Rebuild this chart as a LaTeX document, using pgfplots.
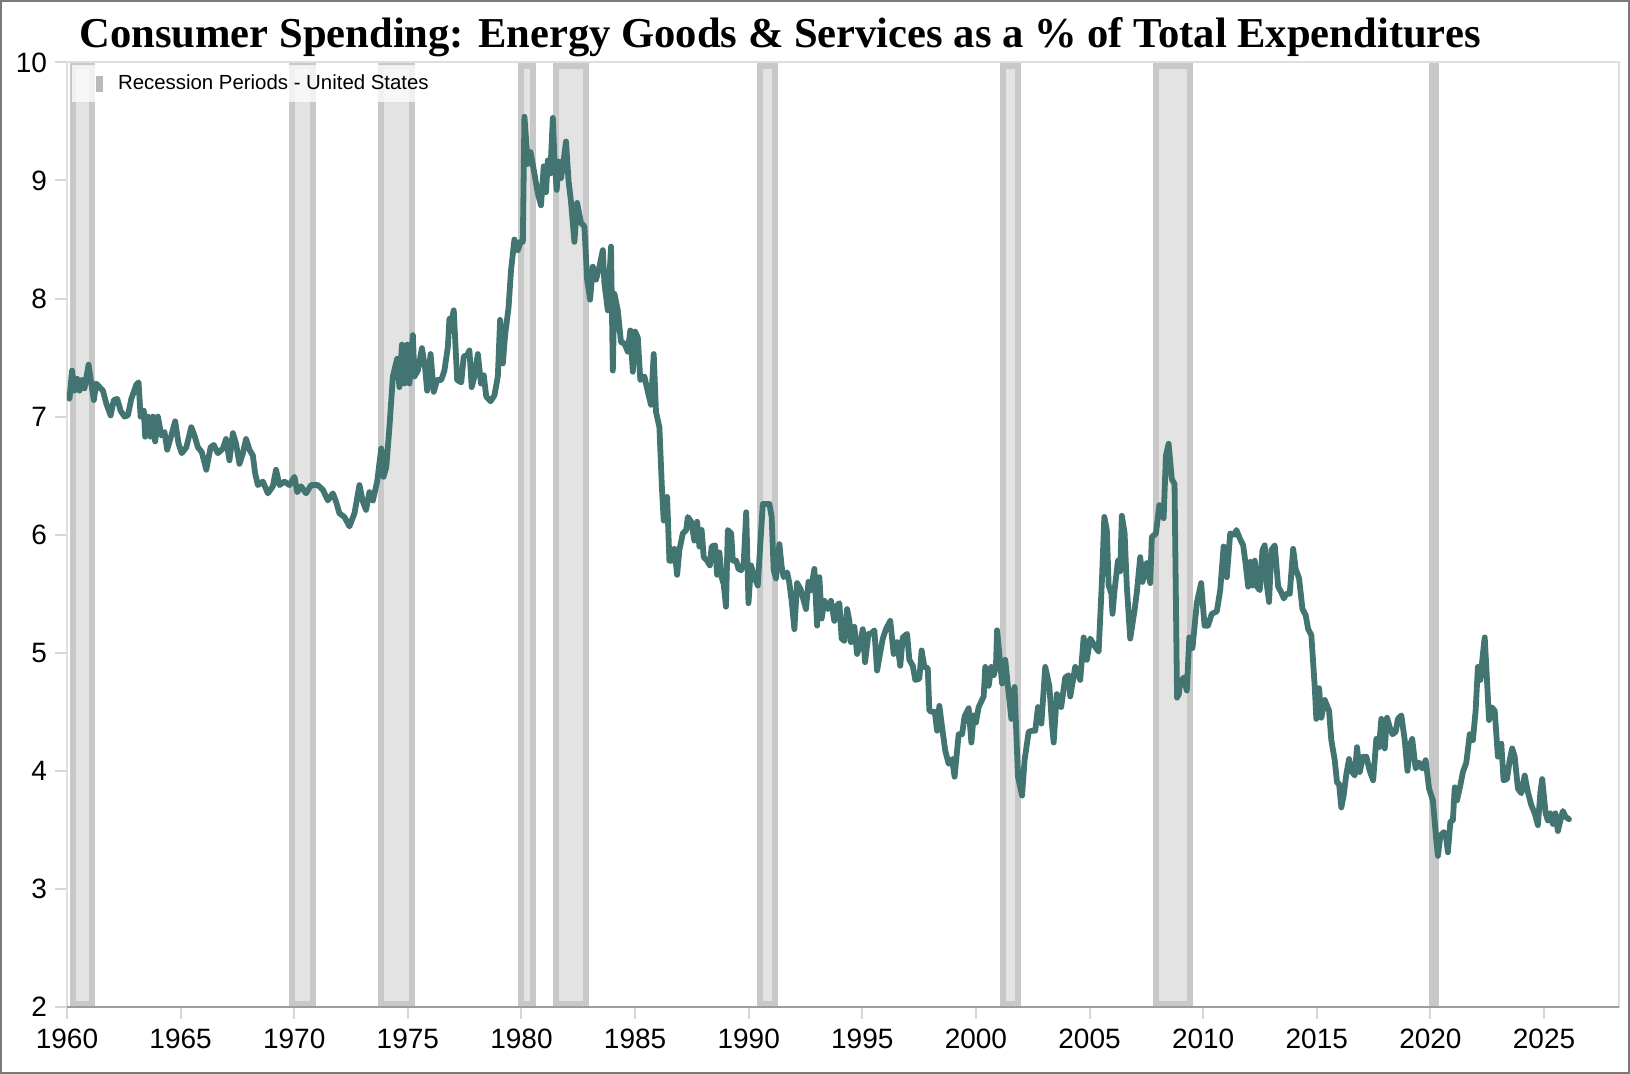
\documentclass[border=0pt]{standalone}
\usepackage{fontspec}
\setmainfont{Liberation Sans}
\newfontfamily\titlefont{Liberation Serif}
\usepackage{pgfplots}
\pgfplotsset{compat=1.18}
\usepackage{pgfplotstable}
\definecolor{lineteal}{HTML}{427471}
\definecolor{bandfill}{HTML}{E3E3E3}
\definecolor{bandborder}{HTML}{C8C8C8}
\definecolor{legendmark}{HTML}{A2A2A2}
\definecolor{axisdark}{HTML}{9C9C9C}
\definecolor{framelight}{HTML}{DEDEDE}
\definecolor{ticklight}{HTML}{D6D6D6}
\definecolor{outerframe}{HTML}{7A7A7A}

\pgfplotstableread{
x y
1960.00 7.18
1960.11 7.15
1960.22 7.39
1960.33 7.22
1960.45 7.32
1960.55 7.22
1960.66 7.31
1960.77 7.24
1960.95 7.44
1961.07 7.28
1961.18 7.14
1961.29 7.28
1961.43 7.25
1961.58 7.22
1961.73 7.11
1961.92 7.01
1962.06 7.14
1962.21 7.15
1962.36 7.05
1962.53 7.00
1962.68 7.01
1962.83 7.15
1963.05 7.27
1963.15 7.29
1963.24 7.00
1963.38 7.05
1963.44 6.83
1963.56 7.00
1963.68 6.83
1963.78 7.00
1963.88 6.79
1964.00 7.00
1964.15 6.84
1964.29 6.87
1964.41 6.72
1964.59 6.84
1964.76 6.96
1964.91 6.77
1965.05 6.69
1965.25 6.74
1965.47 6.91
1965.61 6.84
1965.76 6.74
1965.93 6.70
1966.13 6.55
1966.32 6.74
1966.46 6.76
1966.64 6.69
1966.86 6.73
1967.00 6.81
1967.15 6.63
1967.30 6.86
1967.44 6.77
1967.59 6.60
1967.74 6.69
1967.88 6.81
1968.03 6.72
1968.18 6.67
1968.28 6.52
1968.40 6.42
1968.62 6.45
1968.84 6.35
1969.06 6.41
1969.20 6.55
1969.35 6.42
1969.57 6.45
1969.79 6.42
1970.01 6.49
1970.13 6.36
1970.30 6.41
1970.52 6.35
1970.74 6.42
1971.04 6.42
1971.26 6.38
1971.48 6.29
1971.70 6.35
1971.84 6.28
1971.99 6.18
1972.21 6.15
1972.43 6.07
1972.65 6.18
1972.87 6.42
1973.02 6.28
1973.16 6.21
1973.31 6.36
1973.46 6.29
1973.65 6.45
1973.83 6.73
1973.93 6.49
1974.05 6.57
1974.19 6.91
1974.34 7.34
1974.53 7.49
1974.63 7.25
1974.74 7.61
1974.85 7.28
1974.97 7.61
1975.07 7.28
1975.22 7.69
1975.29 7.34
1975.44 7.39
1975.62 7.58
1975.76 7.41
1975.85 7.22
1976.00 7.53
1976.14 7.21
1976.29 7.31
1976.47 7.31
1976.61 7.39
1976.76 7.59
1976.83 7.83
1976.93 7.82
1977.02 7.90
1977.17 7.31
1977.35 7.29
1977.46 7.51
1977.61 7.52
1977.71 7.56
1977.81 7.25
1977.93 7.34
1978.08 7.53
1978.22 7.28
1978.34 7.35
1978.45 7.17
1978.64 7.13
1978.81 7.18
1978.96 7.34
1979.06 7.82
1979.18 7.45
1979.28 7.69
1979.43 7.92
1979.54 8.24
1979.69 8.50
1979.84 8.41
1979.96 8.48
1980.06 8.48
1980.13 9.54
1980.28 9.14
1980.40 9.24
1980.54 9.09
1980.72 8.89
1980.86 8.79
1980.98 9.12
1981.08 8.90
1981.16 9.17
1981.27 9.06
1981.38 9.53
1981.45 9.19
1981.55 8.92
1981.64 9.16
1981.74 9.02
1981.85 9.16
1981.96 9.33
1982.07 9.00
1982.18 8.82
1982.33 8.48
1982.45 8.81
1982.62 8.64
1982.77 8.61
1982.89 8.16
1983.02 7.99
1983.14 8.27
1983.28 8.16
1983.43 8.27
1983.58 8.41
1983.65 8.13
1983.80 7.90
1983.94 8.44
1984.02 7.39
1984.09 8.04
1984.24 7.90
1984.38 7.63
1984.53 7.62
1984.68 7.55
1984.79 7.73
1984.90 7.38
1985.00 7.72
1985.12 7.67
1985.23 7.31
1985.41 7.34
1985.56 7.21
1985.70 7.10
1985.82 7.53
1985.92 7.04
1986.07 6.91
1986.18 6.40
1986.26 6.12
1986.41 6.32
1986.51 5.78
1986.63 5.78
1986.73 5.88
1986.85 5.66
1986.95 5.87
1987.10 6.01
1987.25 6.04
1987.32 6.15
1987.47 6.11
1987.61 5.95
1987.73 6.11
1987.83 5.90
1987.93 6.04
1988.02 5.81
1988.17 5.78
1988.29 5.74
1988.37 5.90
1988.52 5.91
1988.61 5.66
1988.71 5.85
1988.81 5.64
1988.90 5.58
1989.00 5.39
1989.08 6.04
1989.23 6.01
1989.30 5.78
1989.45 5.78
1989.55 5.71
1989.67 5.70
1989.78 5.76
1989.89 6.19
1989.99 5.42
1990.10 5.74
1990.25 5.64
1990.40 5.57
1990.52 5.95
1990.62 6.26
1990.77 6.26
1990.91 6.26
1991.01 6.15
1991.10 5.70
1991.20 5.63
1991.35 5.92
1991.45 5.73
1991.54 5.64
1991.69 5.68
1991.79 5.59
1991.89 5.44
1992.01 5.20
1992.13 5.59
1992.28 5.54
1992.38 5.47
1992.52 5.37
1992.63 5.60
1992.74 5.53
1992.89 5.71
1993.01 5.23
1993.11 5.64
1993.21 5.29
1993.33 5.44
1993.48 5.37
1993.62 5.44
1993.77 5.27
1993.84 5.39
1993.99 5.42
1994.09 5.12
1994.21 5.10
1994.33 5.37
1994.43 5.27
1994.50 5.09
1994.65 5.22
1994.77 4.99
1994.91 5.08
1995.02 5.20
1995.12 4.92
1995.27 5.16
1995.38 5.16
1995.53 5.19
1995.65 4.85
1995.75 4.96
1995.90 5.12
1996.04 5.20
1996.23 5.27
1996.38 4.99
1996.53 5.09
1996.67 4.89
1996.78 5.13
1996.97 5.16
1997.07 4.94
1997.22 4.89
1997.33 4.77
1997.51 4.78
1997.61 5.02
1997.73 4.88
1997.88 4.87
1997.95 4.51
1998.07 4.50
1998.19 4.50
1998.29 4.34
1998.39 4.55
1998.51 4.37
1998.65 4.17
1998.80 4.06
1998.95 4.10
1999.06 3.95
1999.24 4.31
1999.39 4.31
1999.50 4.46
1999.68 4.53
1999.80 4.24
1999.90 4.47
2000.00 4.41
2000.12 4.54
2000.34 4.63
2000.41 4.88
2000.56 4.72
2000.68 4.88
2000.78 4.81
2000.88 4.88
2000.93 5.19
2001.03 4.99
2001.15 4.74
2001.29 4.94
2001.41 4.71
2001.56 4.44
2001.70 4.71
2001.85 3.95
2002.03 3.79
2002.14 4.09
2002.32 4.33
2002.47 4.34
2002.61 4.34
2002.73 4.54
2002.88 4.40
2003.05 4.88
2003.23 4.72
2003.34 4.41
2003.42 4.24
2003.56 4.65
2003.75 4.54
2003.93 4.79
2004.08 4.81
2004.15 4.63
2004.37 4.88
2004.59 4.77
2004.74 5.13
2004.88 4.94
2005.03 5.12
2005.25 5.05
2005.40 5.01
2005.54 5.59
2005.65 6.15
2005.76 6.04
2005.84 5.57
2005.96 5.50
2006.01 5.33
2006.10 5.53
2006.25 5.78
2006.35 5.69
2006.42 6.16
2006.54 6.02
2006.64 5.56
2006.79 5.12
2006.98 5.36
2007.08 5.51
2007.23 5.81
2007.33 5.60
2007.52 5.76
2007.67 5.59
2007.74 5.98
2007.92 6.01
2008.07 6.25
2008.26 6.14
2008.36 6.67
2008.48 6.77
2008.62 6.47
2008.74 6.43
2008.85 4.62
2008.93 4.65
2008.99 4.75
2009.14 4.79
2009.28 4.68
2009.39 5.13
2009.53 5.04
2009.62 5.22
2009.72 5.42
2009.91 5.59
2010.06 5.23
2010.21 5.23
2010.38 5.33
2010.60 5.35
2010.75 5.53
2010.90 5.90
2011.04 5.64
2011.19 6.01
2011.39 6.00
2011.46 6.04
2011.61 5.97
2011.76 5.91
2011.87 5.75
2011.98 5.56
2012.08 5.77
2012.17 5.57
2012.27 5.78
2012.37 5.56
2012.49 5.53
2012.61 5.87
2012.71 5.91
2012.78 5.61
2012.90 5.43
2013.00 5.87
2013.15 5.91
2013.30 5.56
2013.44 5.51
2013.55 5.46
2013.66 5.50
2013.81 5.50
2013.96 5.88
2014.07 5.71
2014.22 5.63
2014.37 5.37
2014.51 5.32
2014.62 5.20
2014.76 5.15
2014.91 4.71
2014.98 4.44
2015.10 4.70
2015.20 4.45
2015.35 4.60
2015.54 4.51
2015.64 4.26
2015.79 4.09
2015.89 3.90
2015.98 3.89
2016.08 3.69
2016.18 3.79
2016.30 3.97
2016.42 4.10
2016.52 4.00
2016.67 3.96
2016.77 4.20
2016.89 3.99
2017.03 4.12
2017.18 4.12
2017.33 4.00
2017.48 3.92
2017.62 4.27
2017.74 4.20
2017.84 4.44
2017.99 4.19
2018.09 4.45
2018.21 4.37
2018.33 4.31
2018.47 4.33
2018.57 4.44
2018.72 4.47
2018.87 4.26
2018.99 4.00
2019.12 4.23
2019.20 4.27
2019.35 4.02
2019.50 4.07
2019.64 4.02
2019.79 4.09
2019.94 3.85
2020.11 3.75
2020.26 3.41
2020.33 3.28
2020.44 3.45
2020.58 3.48
2020.67 3.47
2020.77 3.31
2020.88 3.57
2020.99 3.58
2021.07 3.86
2021.17 3.75
2021.32 3.88
2021.43 3.99
2021.58 4.07
2021.73 4.31
2021.87 4.26
2021.99 4.51
2022.09 4.88
2022.20 4.77
2022.31 4.99
2022.39 5.13
2022.46 4.88
2022.58 4.43
2022.68 4.54
2022.83 4.51
2022.97 4.12
2023.12 4.23
2023.22 3.92
2023.37 3.93
2023.49 4.09
2023.60 4.19
2023.71 4.12
2023.85 3.85
2024.00 3.81
2024.15 3.96
2024.29 3.82
2024.44 3.71
2024.59 3.64
2024.73 3.54
2024.84 3.82
2024.92 3.93
2025.07 3.64
2025.17 3.58
2025.27 3.64
2025.39 3.55
2025.50 3.64
2025.61 3.49
2025.72 3.58
2025.83 3.66
2025.95 3.61
2026.10 3.59
}\energy

\pgfplotstableread{
x1 x2
1960.25 1961.08
1969.92 1970.83
1973.83 1975.17
1980.00 1980.50
1981.50 1982.83
1990.50 1991.17
2001.17 2001.83
2007.92 2009.42
2020.08 2020.25
}\recessions

\newcommand{\band}[2]{%
  \addplot[fill=bandfill, draw=bandborder, line width=3pt, forget plot]
    coordinates {(#1,2.027) (#2,2.027) (#2,9.973) (#1,9.973)} -- cycle;}

\begin{document}
\begin{tikzpicture}
\path[use as bounding box] (0,0) rectangle (815pt,537pt);
\draw[color=outerframe, line width=1pt] (0.5pt,0.5pt) rectangle (814.5pt,536.5pt);
\node[anchor=base, font=\titlefont\bfseries\fontsize{21.3}{24}\selectfont] at (390pt,513pt)
  {Consumer Spending: Energy Goods \& Services as a \% of Total Expenditures};
\begin{axis}[
  at={(33.5pt,33.5pt)}, anchor=south west,
  scale only axis, width=776pt, height=472.3pt,
  xmin=1960, xmax=2028.3, ymin=2, ymax=10,
  xtick={1960,1965,1970,1975,1980,1985,1990,1995,2000,2005,2010,2015,2020,2025},
  ytick={2,3,4,5,6,7,8,9,10},
  /pgf/number format/1000 sep={},
  /pgf/number format/assume math mode=true,
  tick label style={font=\fontsize{14}{16}\selectfont, text=black},
  xticklabel style={yshift=-1.5pt},
  yticklabel style={xshift=-0.5pt},
  axis line style={draw=framelight, line width=1pt},
  major tick style={draw=ticklight, line width=1pt},
  tick align=outside, major tick length=6pt,
  xtick pos=left, ytick pos=left,
  legend style={at={(0.003,0.998)}, anchor=north west, draw=none,
    fill=white, fill opacity=0.75, text opacity=1,
    font=\fontsize{10.2}{12}\selectfont, inner xsep=2pt, inner ysep=3pt},
  legend cell align=left,
  after end axis/.code={\draw[axisdark, line width=1.3pt] (rel axis cs:0,0) -- (rel axis cs:1,0);},
]
\addlegendimage{legend image code/.code={\path[draw=none, fill=none] (0pt,0pt) -- (19pt,0pt);
  \fill[legendmark, draw=none] (10pt,-4pt) rectangle (13.5pt,4pt);}}
\addlegendentry{Recession Periods - United States}
\pgfplotstablegetrowsof{\recessions}
\pgfmathtruncatemacro{\nrows}{\pgfplotsretval-1}
\pgfplotsinvokeforeach{0,...,\nrows}{
  \pgfplotstablegetelem{#1}{x1}\of{\recessions}\let\xa\pgfplotsretval
  \pgfplotstablegetelem{#1}{x2}\of{\recessions}\let\xb\pgfplotsretval
  \edef\tmp{\noexpand\band{\xa}{\xb}}\tmp
}
\addplot[lineteal, line width=2.9pt, line join=round, line cap=round, forget plot]
  table[x=x, y=y] {\energy};
\end{axis}
\end{tikzpicture}
\end{document}
